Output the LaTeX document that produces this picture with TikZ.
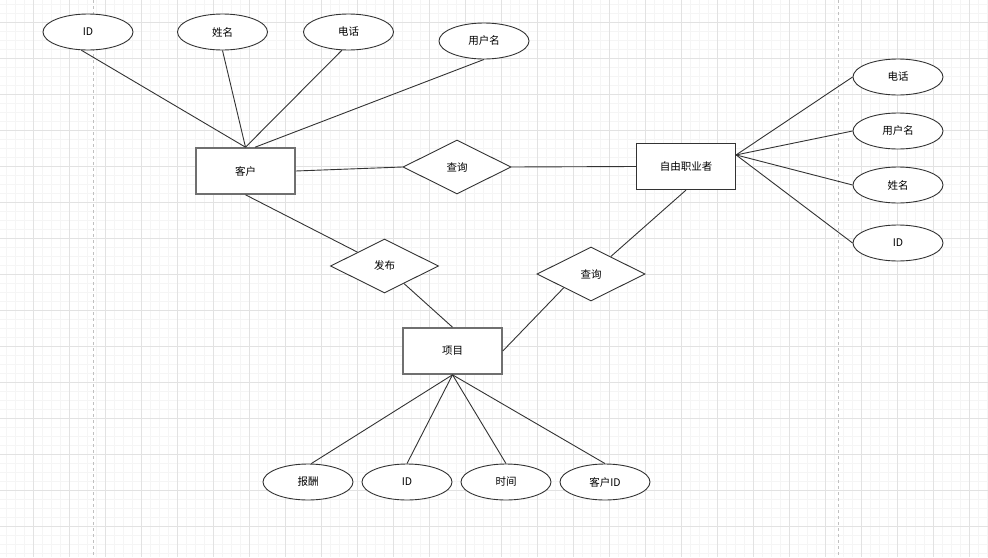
\documentclass[tikz,border=0pt]{standalone}
\usepackage{fontspec}
\setmainfont{Noto Sans CJK SC}
\usetikzlibrary{shapes.geometric}

\definecolor{gridmajor}{HTML}{E2E2E2}
\definecolor{gridminor}{HTML}{F5F5F5}
\definecolor{pagebreak}{HTML}{C0C0C0}
\definecolor{lineclr}{HTML}{333333}
\definecolor{boxclr}{HTML}{707070}

\begin{document}
\begin{tikzpicture}[x=1pt,y=-1pt,
		every node/.style={font=\fontsize{10.5}{12}\selectfont},
		attr/.style={ellipse,draw=lineclr,line width=0.9pt,fill=white,minimum width=90pt,minimum height=36pt,inner sep=0pt},
		entity/.style={rectangle,draw=boxclr,line width=1.6pt,fill=white,minimum width=99pt,minimum height=46pt,inner sep=0pt},
		rel/.style={diamond,draw=lineclr,line width=0.9pt,fill=white,aspect=2,minimum width=108pt,minimum height=54pt,inner sep=0pt},
		link/.style={draw=lineclr,line width=0.9pt}]
				%%background and grid
				\fill[white](0, 0) rectangle (988, 557);
				\useasboundingbox (0, 0) rectangle (988, 557);
				\foreach \x in {6,15,...,987} \draw[gridminor, line width=0.5pt](\x, 0) to (\x, 557);
				\foreach \y in {4,13,...,556} \draw[gridminor, line width=0.5pt](0, \y) to (988, \y);
				\foreach \x in {33,69,...,987} \draw[gridmajor, line width=0.8pt](\x, 0) to (\x, 557);
				\foreach \y in {22,58,...,556} \draw[gridmajor, line width=0.8pt](0, \y) to (988, \y);
				\draw[pagebreak, dash pattern=on 3pt off 3pt](93, 0) to (93, 557);
				\draw[pagebreak, dash pattern=on 3pt off 3pt](838, 0) to (838, 557);

				%%entities
				\node[entity] (kehu) at (245.5, 171){客户};
				\node[entity, draw=lineclr, line width=1.2pt] (ziyou) at (686, 166.5){自由职业者};
				\node[entity] (xiangmu) at (452.5, 351){项目};

				%%relations
				\node[rel] (chaxun1) at (457, 167){查询};
				\node[rel] (fabu) at (384.5, 266){发布};
				\node[rel] (chaxun2) at (591, 274){查询};

				%%kehu attributes
				\node[attr] (id1) at (88, 32){ID};
				\node[attr] (xingming1) at (222.5, 32){姓名};
				\node[attr] (dianhua1) at (348.5, 32){电话};
				\node[attr] (yonghu1) at (484, 41){用户名};

				%%ziyou attributes
				\node[attr] (dianhua2) at (898, 77){电话};
				\node[attr] (yonghu2) at (898, 131){用户名};
				\node[attr] (xingming2) at (898, 185){姓名};
				\node[attr] (id2) at (898, 243){ID};

				%%xiangmu attributes
				\node[attr] (baochou) at (308, 482){报酬};
				\node[attr] (id3) at (407, 482){ID};
				\node[attr] (shijian) at (506, 482){时间};
				\node[attr] (kehuid) at (605, 482){客户ID};

				%%links for kehu
				\draw[link](id1.250) to (kehu.north);
				\draw[link](xingming1.south) to (kehu.north);
				\draw[link](dianhua1.250) to (kehu.north);
				\draw[link](yonghu1.south) to (kehu.68);
				\draw[link](kehu.east) to (chaxun1.west);
				\draw[link](chaxun1.east) to (ziyou.west);
				\draw[link](kehu.south) to (fabu);
				\draw[link](fabu) to (xiangmu.north);

				%%links for ziyou
				\draw[link](ziyou.13) to (dianhua2.west);
				\draw[link](ziyou.13) to (yonghu2.west);
				\draw[link](ziyou.13) to (xingming2.west);
				\draw[link](ziyou.13) to (id2.west);
				\draw[link](chaxun2) to (ziyou.south);
				\draw[link](xiangmu.east) to (chaxun2.south west);

				%%links for xiangmu
				\draw[link](xiangmu.south) to (baochou.80);
				\draw[link](xiangmu.south) to (id3.north);
				\draw[link](xiangmu.south) to (shijian.north);
				\draw[link](xiangmu.south) to (kehuid.north);
\end{tikzpicture}
\end{document}
